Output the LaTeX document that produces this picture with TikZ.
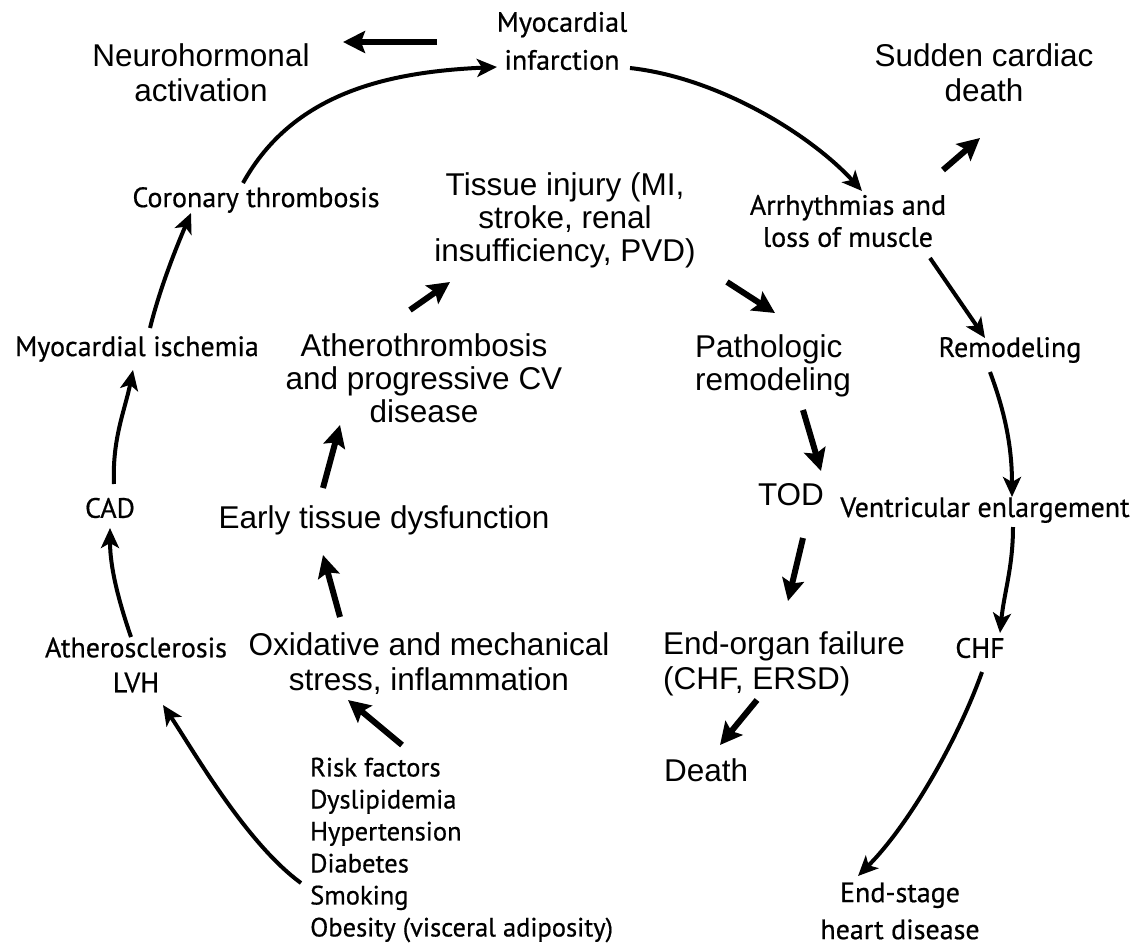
\documentclass[tikz,border=0pt]{standalone}
\usepackage{fontspec}
\setmainfont{Liberation Sans}
\newfontfamily\ringfont[FakeBold=0.6]{PT Sans}
\usetikzlibrary{arrows.meta}

\begin{document}
\begin{tikzpicture}[x=1bp,y=-1bp,
  ringlbl/.style={inner sep=0pt,align=center,font=\ringfont\fontsize{28bp}{35bp}\selectfont},
  corelbl/.style={inner sep=0pt,align=center,font=\fontsize{31.5bp}{35bp}\selectfont},
  ringarrow/.style={line width=4bp,-{Stealth[length=20bp,width=18bp,inset=5bp]}},
  corearrow/.style={line width=6bp,-{Stealth[length=22bp,width=22bp,inset=4bp]}}]

\useasboundingbox (0,0) rectangle (1144,952);

% outer cycle
\node[ringlbl,font=\ringfont\fontsize{28bp}{38bp}\selectfont] (mi) at (562,41) {Myocardial\\infarction};
\node[ringlbl,font=\ringfont\fontsize{28bp}{32bp}\selectfont] (ar) at (848,221) {Arrhythmias and\\loss of muscle};
\node[ringlbl] (rm) at (1010,350) {Remodeling};
\node[ringlbl] (ve) at (985,510) {Ventricular enlargement};
\node[ringlbl] (chf) at (980,648) {CHF};
\node[ringlbl,font=\ringfont\fontsize{28bp}{37bp}\selectfont] (esd) at (900,911) {End-stage\\heart disease};
\node[ringlbl,align=left,anchor=west,font=\ringfont\fontsize{26.5bp}{32bp}\selectfont] (rf) at (310,850)
  {Risk factors\\Dyslipidemia\\Hypertension\\Diabetes\\Smoking\\Obesity (visceral adiposity)};
\node[ringlbl] (al) at (136,665) {Atherosclerosis\\LVH};
\node[ringlbl] (cad) at (110,508) {CAD};
\node[ringlbl] (mis) at (137,349) {Myocardial ischemia};
\node[ringlbl] (ct) at (256,200) {Coronary thrombosis};

% inner chain and side outcomes
\node[corelbl] (nh) at (201,73) {Neurohormonal\\activation};
\node[corelbl] (scd) at (984,73) {Sudden cardiac\\death};
\node[corelbl,font=\fontsize{31.5bp}{33bp}\selectfont] (ti) at (565,220) {Tissue injury (MI,\\stroke, renal\\insufficiency, PVD)};
\node[corelbl,font=\fontsize{31.5bp}{33bp}\selectfont] (at) at (424,378) {Atherothrombosis\\and progressive CV\\disease};
\node[corelbl,align=left,anchor=west,font=\fontsize{31.5bp}{33bp}\selectfont] (pr) at (695,366) {Pathologic\\remodeling};
\node[corelbl] (tod) at (791,495) {TOD};
\node[corelbl] (etd) at (384,520) {Early tissue dysfunction};
\node[corelbl,align=left,anchor=west] (eof) at (663,664) {End-organ failure\\(CHF, ERSD)};
\node[corelbl] (ox) at (429,664) {Oxidative and mechanical\\stress, inflammation};
\node[corelbl,anchor=west] (dth) at (664,770) {Death};

% outer cycle connectors
\draw[ringarrow] ([shift={(-13,-17)}]ct.center) .. controls +(50,-90) and +(-110,5) .. ([shift={(-65,26)}]mi.center);
\draw[ringarrow] ([shift={(68,27)}]mi.center) .. controls +(90,10) and +(-50,-55) .. ([shift={(14,-30)}]ar.center);
\draw[ringarrow] ([shift={(82,37)}]ar.center) -- ([shift={(-25,-12)}]rm.center);
\draw[ringarrow] ([shift={(-20,22)}]rm.center) .. controls +(15,40) and +(0,-50) .. ([shift={(27,-13)}]ve.center);
\draw[ringarrow] ([shift={(28,17)}]ve.center) .. controls +(0,40) and +(4,-40) .. ([shift={(20,-15)}]chf.center);
\draw[ringarrow] ([shift={(2,24)}]chf.center) .. controls +(-25,70) and +(50,-50) .. ([shift={(-42,-35)}]esd.center);
\draw[ringarrow] ([shift={(-9,33)}]rf.west) .. controls +(-55,-40) and +(30,45) .. ([shift={(27,40)}]al.center);
\draw[ringarrow] ([shift={(-5,-28)}]al.center) .. controls +(-12,-35) and +(0,40) .. ([shift={(0,20)}]cad.center);
\draw[ringarrow] ([shift={(4,-24)}]cad.center) .. controls +(-2,-45) and +(-8,40) .. ([shift={(-4,21)}]mis.center);
\draw[ringarrow] ([shift={(13,-21)}]mis.center) .. controls +(10,-40) and +(-15,35) .. ([shift={(-65,13)}]ct.center);

% side branches
\draw[corearrow] ([shift={(-125,1)}]mi.center) -- ([shift={(142,-31)}]nh.center);
\draw[corearrow] ([shift={(95,-51)}]ar.center) -- ([shift={(-4,65)}]scd.center);

% inner chain connectors
\draw[corearrow] ([shift={(92,-105)}]rf.west) -- ([shift={(-81,36)}]ox.center);
\draw[corearrow] ([shift={(-89,-47)}]ox.center) -- ([shift={(-61,35)}]etd.center);
\draw[corearrow] ([shift={(-61,-32)}]etd.center) -- ([shift={(-84,47)}]at.center);
\draw[corearrow] ([shift={(-14,-68)}]at.center) -- ([shift={(-115,62)}]ti.center);
\draw[corearrow] ([shift={(162,62)}]ti.center) -- ([shift={(80,-53)}]pr.west);
\draw[corearrow] ([shift={(108,44)}]pr.west) -- ([shift={(30,-24)}]tod.center);
\draw[corearrow] ([shift={(12,43)}]tod.center) -- ([shift={(125,-63)}]eof.west);
\draw[corearrow] ([shift={(94,36)}]eof.west) -- ([shift={(56,-25)}]dth.west);
\end{tikzpicture}
\end{document}
